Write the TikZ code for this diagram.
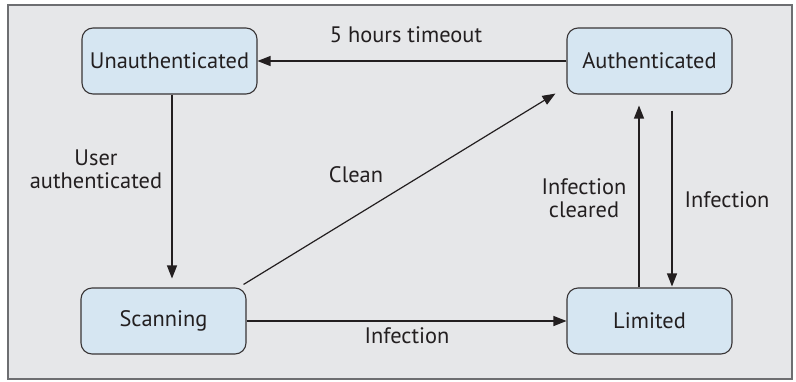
\documentclass[tikz,border=0pt]{standalone}
\usepackage{fontspec}
\setmainfont{PT Sans}
\usetikzlibrary{arrows.meta}
\definecolor{bgcol}{HTML}{E6E7E9}
\definecolor{nodecol}{HTML}{D6E6F2}
\definecolor{framecol}{HTML}{6D6E71}
\definecolor{txtcol}{HTML}{231F20}
\begin{document}
\begin{tikzpicture}[x=1pt,y=-1pt,
  state/.style={draw=txtcol!90,line width=1.1pt,fill=nodecol,rounded corners=11pt,
    minimum height=66pt,minimum width=165pt,inner sep=0pt,text=txtcol,
    font=\fontsize{22.4}{24}\selectfont},
  lbl/.style={text=txtcol,font=\fontsize{22.4}{23}\selectfont,inner sep=0pt},
  conn/.style={draw=txtcol,line width=1.2pt,-{Triangle[length=13pt,width=10pt]}}]
\useasboundingbox (0,0) rectangle (796,381);
\draw[framecol,line width=1.6pt,fill=bgcol] (8,5) rectangle (792,379);
\node[state,minimum width=175pt] (unauth) at (169.5,61) {Unauthenticated};
\node[state] (auth) at (649.5,61) {Authenticated};
\node[state] (scan) at (163.5,321) {Scanning};
\node[state] (lim) at (649.5,321) {Limited};
\draw[conn] (auth.west) -- (unauth.east);
\draw[conn,shorten >=9pt] ([xshift=2.5pt]unauth.south) -- ([xshift=8.5pt]scan.north);
\draw[conn] ([xshift=-3pt,yshift=3pt]scan.north east) -- ([xshift=-11pt,yshift=1pt]auth.south west);
\draw[conn] (scan.east) -- (lim.west);
\draw[conn,shorten >=11pt] ([xshift=-10.5pt]lim.north) -- ([xshift=-10.5pt]auth.south);
\draw[conn,shorten <=16pt,shorten >=1pt] ([xshift=22.5pt]auth.south) -- ([xshift=22.5pt]lim.north);
\node[lbl] (l1) at (406,35) {5 hours timeout};
\node[lbl,align=center] (l2) at (96,169) {User\\authenticated};
\node[lbl] (l3) at (356,175) {Clean};
\node[lbl,align=center] (l4) at (584,198) {Infection\\cleared};
\node[lbl] (l5) at (727,200) {Infection};
\node[lbl] (l6) at (407,336) {Infection};
\end{tikzpicture}
\end{document}
